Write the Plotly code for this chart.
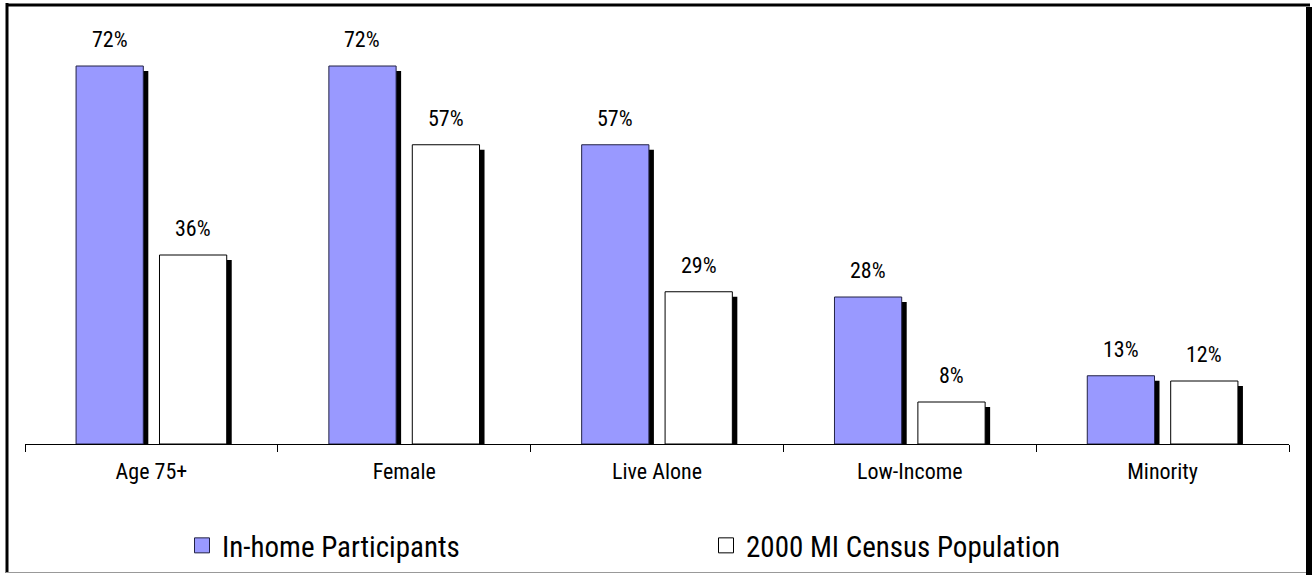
import plotly.graph_objects as go

# Chart data
categories = ["Age 75+", "Female", "Live Alone", "Low-Income", "Minority"]
inhome_pct = [72, 72, 57, 28, 13]
census_pct = [36, 57, 29, 8, 12]
series_names = ["In-home Participants", "2000 MI Census Population"]

FONT = "Liberation Sans Narrow, Arial Narrow, Roboto Condensed, Liberation Sans, sans-serif"
BLUE = "#9999FF"

W, H = 1312, 575
ML, MR, MT, MB = 25, 23, 24, 131
PW, PH = W - ML - MR, H - MT - MB
Y_MAX = 80

BAR_W = 0.266
OFFSETS = [-0.298, 0.032]
SHADOW_PX = 5
sh_dx = SHADOW_PX / (PW / len(categories))
sh_dy = SHADOW_PX * Y_MAX / PH

fig = go.Figure()

# drop shadows: base y-axis, range shifted so they sit a few pixels lower
for vals, off in zip([inhome_pct, census_pct], OFFSETS):
    fig.add_trace(go.Bar(
        x=categories, y=vals, width=BAR_W, offset=off + sh_dx,
        marker=dict(color="black", line=dict(width=0)),
        yaxis="y", showlegend=False, hoverinfo="skip"))

# main bars on the overlaying axis so they are drawn above the shadows
fig.add_trace(go.Bar(
    x=categories, y=inhome_pct, name=series_names[0], width=BAR_W, offset=OFFSETS[0],
    yaxis="y2", showlegend=False, legendgroup="a",
    marker=dict(color=BLUE, line=dict(color="#222244", width=1))))
fig.add_trace(go.Bar(
    x=categories, y=census_pct, name=series_names[1], width=BAR_W, offset=OFFSETS[1],
    yaxis="y2", showlegend=False, legendgroup="b",
    marker=dict(color="white", line=dict(color="black", width=1))))

# legend keys with larger square swatches
for name, color, edge, grp in [(series_names[0], BLUE, "#222244", "a"),
                               (series_names[1], "white", "black", "b")]:
    fig.add_trace(go.Scatter(
        x=[None], y=[None], mode="markers", name=name, legendgroup=grp, yaxis="y2",
        marker=dict(symbol="square", size=15, color=color, line=dict(color=edge, width=1))))

# value labels
cat_px = PW / len(categories)
annotations = []
for vals, off in zip([inhome_pct, census_pct], OFFSETS):
    shift = (off + BAR_W / 2) * cat_px
    for c, v in zip(categories, vals):
        annotations.append(dict(
            x=c, y=v, xref="x", yref="y2", text=f"{v}%", showarrow=False,
            xshift=shift, yshift=12, yanchor="bottom",
            font=dict(family=FONT, size=22, color="black")))

def px_x(p):
    return (p - ML) / PW

def px_y(p):
    return (H - MB - p) / PH

# outer frame with a dark right edge
shapes = [
    dict(type="line", xref="paper", yref="paper", x0=px_x(7), x1=px_x(7), y0=px_y(3), y1=px_y(573),
         line=dict(color="black", width=3)),
    dict(type="line", xref="paper", yref="paper", x0=px_x(6), x1=px_x(1310), y0=px_y(5), y1=px_y(5),
         line=dict(color="black", width=3)),
    dict(type="line", xref="paper", yref="paper", x0=px_x(6), x1=px_x(1306), y0=px_y(572.5), y1=px_y(572.5),
         line=dict(color="#999999", width=1)),
    dict(type="rect", xref="paper", yref="paper", x0=px_x(1306), x1=px_x(1312), y0=px_y(7), y1=px_y(575),
         fillcolor="black", line=dict(width=0)),
]

fig.update_layout(
    width=W, height=H,
    margin=dict(l=ML, r=MR, t=MT, b=MB, pad=0, autoexpand=False),
    paper_bgcolor="white", plot_bgcolor="white",
    barmode="overlay",
    font=dict(family=FONT, color="black"),
    xaxis=dict(
        type="category", showgrid=False, zeroline=False,
        showline=True, linecolor="black", linewidth=1,
        ticks="outside", tickson="boundaries", ticklen=7, tickcolor="black", tickwidth=1,
        tickfont=dict(family=FONT, size=22, color="black"), ticklabelstandoff=8,
        fixedrange=True),
    yaxis=dict(range=[sh_dy, Y_MAX + sh_dy], visible=False, showgrid=False, fixedrange=True),
    yaxis2=dict(range=[0, Y_MAX], overlaying="y", visible=False, showgrid=False, fixedrange=True),
    legend=dict(
        orientation="h", x=px_x(182), xanchor="left", y=px_y(520), yanchor="top",
        font=dict(family=FONT, size=29, color="black"),
        entrywidth=479, entrywidthmode="pixels", traceorder="normal",
        itemclick=False, itemdoubleclick=False,
        bgcolor="rgba(0,0,0,0)"),
    annotations=annotations,
    shapes=shapes,
    showlegend=True,
)

fig.write_html("out.html")
